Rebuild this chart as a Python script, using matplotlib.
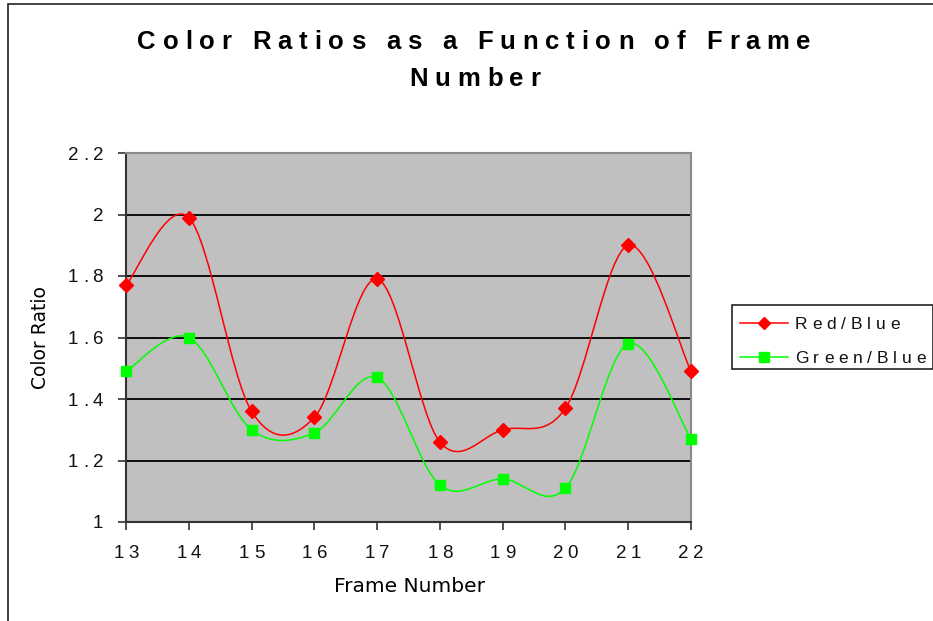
import matplotlib
matplotlib.use("Agg")
import matplotlib.pyplot as plt
from matplotlib.path import Path
from matplotlib.patches import PathPatch, Rectangle
from matplotlib.font_manager import FontProperties
from matplotlib.transforms import offset_copy
from matplotlib.lines import Line2D

# data
frames = [13, 14, 15, 16, 17, 18, 19, 20, 21, 22]
red_blue = [1.77, 1.99, 1.36, 1.34, 1.79, 1.26, 1.30, 1.37, 1.90, 1.49]
green_blue = [1.49, 1.60, 1.30, 1.29, 1.47, 1.12, 1.14, 1.11, 1.58, 1.27]
yticks = [1, 1.2, 1.4, 1.6, 1.8, 2, 2.2]
ytick_labels = ["1", "1.2", "1.4", "1.6", "1.8", "2", "2.2"]
series_names = ["Red/Blue", "Green/Blue"]
title_lines = ["Color Ratios as a Function of Frame", "Number"]

W, H = 933, 621
fig = plt.figure(figsize=(W / 100, H / 100), dpi=100)
renderer = fig.canvas.get_renderer()

# outer chart border
fig.patches.append(Rectangle((8 / W, -0.05), 1.2, 1 - 4 / H + 0.05,
                             transform=fig.transFigure, fill=False,
                             edgecolor="#222222", lw=1.2))

ax = fig.add_axes([126 / W, 1 - 522 / H, (691 - 126) / W, (522 - 153) / H])
ax.set_facecolor("#c0c0c0")
ax.set_xlim(13, 22)
ax.set_ylim(1, 2.2)
ax.set_yticks(yticks)
ax.set_xticks(frames)
ax.set_yticklabels([])
ax.set_xticklabels([])
ax.tick_params(direction="out", length=6, width=1.2, color="#333333")
for y in yticks[1:-1]:
    ax.axhline(y, color="black", lw=1.3, zorder=1)
for s in ["left", "bottom"]:
    ax.spines[s].set_color("#333333")
    ax.spines[s].set_linewidth(1.5)
for s in ["top", "right"]:
    ax.spines[s].set_color("#8a8a8a")
    ax.spines[s].set_linewidth(1.5)


def char_width(c, fp):
    a = renderer.get_text_width_height_descent("|" + c + "|", fp, ismath=False)[0]
    b = renderer.get_text_width_height_descent("||", fp, ismath=False)[0]
    return a - b


def tracked(x, y, s, fp, tracking, transform, ha="left", dx0=0, dy=0,
            color="black"):
    widths = [char_width(c, fp) for c in s]
    total = sum(widths) + tracking * (len(s) - 1)
    dx = dx0 + {"left": 0, "center": -total / 2, "right": -total}[ha]
    for c, w in zip(s, widths):
        t = offset_copy(transform, fig=fig, x=dx, y=dy, units="dots")
        fig.text(x, y, c, fontproperties=fp, transform=t, ha="left",
                 va="baseline", color=color)
        dx += w + tracking


def cap_height(fp, ch="0"):
    w, h, d = renderer.get_text_width_height_descent(ch, fp, ismath=False)
    return h - d


# tick labels
tick_fp = FontProperties(family="Liberation Sans", size=13.5)
ch = cap_height(tick_fp)
for y, lab in zip(yticks, ytick_labels):
    tracked(0, y, lab, tick_fp, 4.5, ax.get_yaxis_transform(), ha="right",
            dx0=-23, dy=-ch / 2, color="#111111")
for f in frames:
    tracked(f, 0, str(f), tick_fp, 4.5, ax.get_xaxis_transform(), ha="center",
            dy=-29 - ch / 2, color="#111111")


def smooth_path(xs, ys):
    pts = list(zip(xs, ys))
    n = len(pts)
    verts = [pts[0]]
    codes = [Path.MOVETO]
    for i in range(n - 1):
        p0 = pts[max(i - 1, 0)]
        p1 = pts[i]
        p2 = pts[i + 1]
        p3 = pts[min(i + 2, n - 1)]
        c1 = (p1[0] + (p2[0] - p0[0]) / 6, p1[1] + (p2[1] - p0[1]) / 6)
        c2 = (p2[0] - (p3[0] - p1[0]) / 6, p2[1] - (p3[1] - p1[1]) / 6)
        verts += [c1, c2, p2]
        codes += [Path.CURVE4] * 3
    return Path(verts, codes)


styles = [("#ff0000", "D", 7), ("#00ff00", "s", 7.5)]
for vals, (col, mk, ms) in zip([red_blue, green_blue], styles):
    ax.add_patch(PathPatch(smooth_path(frames, vals), fill=False,
                           edgecolor=col, lw=1.1, zorder=3, clip_on=False))
    ax.plot(frames, vals, ls="none", marker=mk, ms=ms, color=col,
            markeredgecolor=col, zorder=4, clip_on=False)

# axis labels
ax.text(-0.152, 0.5, "Color Ratio", transform=ax.transAxes, rotation=90,
        ha="center", va="center", fontsize=13.5, family="DejaVu Sans")
fig.text(409 / W, 1 - 587 / H, "Frame Number", ha="center", va="center",
         fontsize=14.5, family="DejaVu Sans")

# title
title_fp = FontProperties(family="Liberation Sans", size=18.5, weight="bold")
tracked(474 / W, 1 - 49 / H, title_lines[0], title_fp, 6.8, fig.transFigure,
        ha="center")
tracked(475 / W, 1 - 86 / H, title_lines[1], title_fp, 6.8, fig.transFigure,
        ha="center")

# legend box
fig.patches.append(Rectangle((732 / W, 1 - 369 / H), (933 - 732) / W, 64 / H,
                             transform=fig.transFigure, fill=False,
                             edgecolor="#222222", lw=1.2))
leg_fp = FontProperties(family="Liberation Sans", size=12.5)
lch = cap_height(leg_fp, "R")
for i, (name, (col, mk, ms)) in enumerate(zip(series_names, styles)):
    yy = 1 - (323 + 34 * i) / H
    fig.lines.append(Line2D([740 / W, 788 / W], [yy, yy], color=col, lw=1.1,
                            transform=fig.transFigure))
    fig.lines.append(Line2D([764 / W], [yy], marker=mk, ms=ms - 0.5, color=col,
                            ls="none", transform=fig.transFigure))
    tracked(795 / W, yy, name, leg_fp, 4.8, fig.transFigure, dy=-lch / 2,
            color="#111111")

fig.savefig("out.png", dpi=100)
